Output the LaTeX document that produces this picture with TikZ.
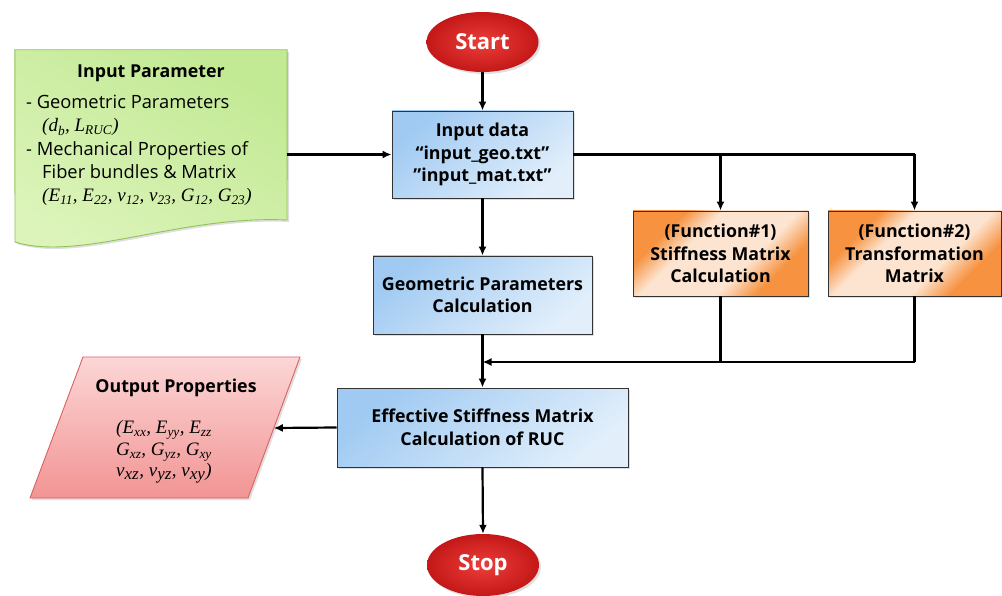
\documentclass[tikz,border=0pt]{standalone}
\usepackage{fontspec}
\setmainfont{Open Sans}
\newfontfamily\tnr{Liberation Serif}
\usetikzlibrary{shapes.geometric,shadows,arrows.meta}
\newcommand\mysub[1]{\textsubscript{#1}}
\definecolor{blueA}{RGB}{160,202,242}
\definecolor{blueB}{RGB}{226,239,251}
\definecolor{orA}{RGB}{246,146,64}
\definecolor{orB}{RGB}{253,228,208}
\definecolor{grA}{RGB}{194,233,148}
\definecolor{grB}{RGB}{220,244,186}
\definecolor{grD}{RGB}{146,194,90}
\definecolor{rdA}{RGB}{242,148,148}
\definecolor{rdB}{RGB}{252,214,214}
\definecolor{rdD}{RGB}{222,96,96}
\definecolor{elIn}{RGB}{236,62,58}
\definecolor{elOut}{RGB}{196,24,24}
\pgfdeclareverticalshading{orsh}{100bp}{color(0bp)=(orA); color(29bp)=(orA); color(40bp)=(orB); color(61bp)=(orB); color(71bp)=(orA); color(100bp)=(orA)}
\begin{document}
\begin{tikzpicture}[x=1pt,y=-1pt,
  shadowed/.style={drop shadow={opacity=0.25,shadow xshift=2pt,shadow yshift=-2pt}},
  flowbox/.style={rectangle, draw=black!80, line width=0.9pt, align=center, inner sep=0pt,
     font=\bfseries\fontsize{17.8}{22.5}\selectfont, shadowed},
  bluebox/.style={flowbox, top color=blueA, bottom color=blueB, shading angle=40},
  orangebox/.style={flowbox, shading=orsh, shading angle=45},
  terminal/.style={ellipse, inner sep=0pt, inner color=elIn, outer color=elOut, text=white,
     font=\bfseries\fontsize{22}{26}\selectfont, shadowed},
  conn/.style={line width=2.2pt, draw=black},
  arr/.style={conn, -{Latex[length=9pt,width=8pt]}},
  plain/.style={inner sep=0pt}
]
\useasboundingbox (0,0) rectangle (1002,596);

% terminals and process boxes
\node[terminal, minimum width=112pt, minimum height=60pt] (start) at (482.5,42) {Start};
\node[bluebox, minimum width=181pt, minimum height=87pt] (inp) at (482.5,154.5)
  {Input data\\“input\_geo.txt”\\\symbol{34}input\_mat.txt”};
\node[bluebox, minimum width=219pt, minimum height=78pt] (geo) at (482.5,295)
  {Geometric Parameters\\Calculation};
\node[bluebox, minimum width=291pt, minimum height=79pt] (eff) at (482.5,427.5)
  {Effective Stiffness Matrix\\Calculation of RUC};
\node[terminal, minimum width=112pt, minimum height=62pt] (stop) at (483,565) {Stop};
\node[orangebox, minimum width=175pt, minimum height=85pt] (f1) at (720.5,253.5)
  {(Function\#1)\\Stiffness Matrix\\Calculation};
\node[orangebox, minimum width=173pt, minimum height=85pt] (f2) at (914.5,253.5)
  {(Function\#2)\\Transformation\\Matrix};

% input parameter document shape
\node[plain, minimum width=272pt, minimum height=193pt] (inparam) at (151,146.5) {};
\path[draw=grD, line width=0.9pt, top color=grA, bottom color=grB, shading angle=-30, shadowed]
  (inparam.north west) -- (inparam.north east) -- (287,220)
  .. controls (180,215) and (80,262) .. (15,242) -- cycle;
\node[plain, font=\bfseries\fontsize{17.8}{20}\selectfont] (iptitle) at (151,73) {Input Parameter};
\node[plain, anchor=north west, align=left, font=\fontsize{18.3}{23.2}\selectfont] (ipbody) at (26,95)
  {- Geometric Parameters\\
   \hspace*{16pt}{\tnr\itshape\fontsize{19}{23.2}\selectfont (d\mysub{b}, L\mysub{RUC})}\\
   - Mechanical Properties of\\
   \hspace*{16pt}Fiber bundles \& Matrix\\
   \hspace*{16pt}{\tnr\itshape\fontsize{19}{23.2}\selectfont (E\mysub{11}, E\mysub{22}, v\mysub{12}, v\mysub{23}, G\mysub{12}, G\mysub{23})}};

% output parallelogram
\path[draw=rdD, line width=0.9pt, top color=rdB, bottom color=rdA, shadowed]
  (83,357) -- (300,357) -- (248,498) -- (30,498) -- cycle;
\coordinate (outR) at (273.8,428);
\node[plain, font=\bfseries\fontsize{17.8}{20}\selectfont] (outtitle) at (176,388) {Output Properties};
\node[plain, align=center, font=\tnr\itshape\fontsize{19}{21.5}\selectfont] (outbody) at (164,452)
  {(E\mysub{xx}, E\mysub{yy}, E\mysub{zz}\\
   G\mysub{xz}, G\mysub{yz}, G\mysub{xy}\\
   ν\mysub{\fontsize{17}{17}\selectfont xz}, ν\mysub{\fontsize{17}{17}\selectfont yz}, ν\mysub{\fontsize{17}{17}\selectfont xy})};

% connectors
\coordinate (merge) at (482.5,362);
\draw[arr] (start.south) -- (inp.north);
\draw[arr] (inp.west -| inparam.east) -- (inp.west);
\draw[conn] (inp.east) -- (inp.east -| f2.north);
\draw[arr] (inp.east -| f2.north) -- (f2.north);
\draw[arr] (inp.east -| f1.north) -- (f1.north);
\draw[arr] (inp.south) -- (geo.north);
\draw[arr] (geo.south) -- (eff.north);
\draw[conn] (f2.south) -- (f2.south |- merge);
\draw[arr] (f2.south |- merge) -- (merge);
\draw[conn] (f1.south) -- (f1.south |- merge);
\draw[arr] (eff.west) -- (outR);
\draw[arr] (eff.south) -- (stop.north);
\end{tikzpicture}
\end{document}
